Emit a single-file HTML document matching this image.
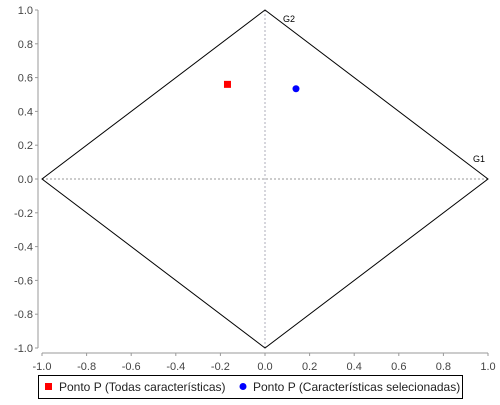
<!DOCTYPE html>
<html><head><meta charset="utf-8"><style>
body{margin:0;background:#fff;}
svg text{font-family:"Liberation Sans","DejaVu Sans",sans-serif;}
</style></head><body>
<svg id="c" width="500" height="400" xmlns="http://www.w3.org/2000/svg"></svg>
<script>
const xTicks=[-1.0,-0.8,-0.6,-0.4,-0.2,0.0,0.2,0.4,0.6,0.8,1.0];
const yTicks=[-1.0,-0.8,-0.6,-0.4,-0.2,0.0,0.2,0.4,0.6,0.8,1.0];
const diamondX=[1,0,-1,0];
const diamondY=[0,1,0,-1];
const seriesNames=["Ponto P (Todas características)","Ponto P (Características selecionadas)"];
const seriesX=[-0.166,0.139];
const seriesY=[0.557,0.534];
const seriesColors=["#ff0000","#0000ff"];
const L=42,R=488,T=10,B=348;
const sx=v=>L+(v+1)/2*(R-L);
const sy=v=>B-(v+1)/2*(B-T);
const svg=document.getElementById('c');
const NS="http://www.w3.org/2000/svg";
function mk(t,a,p){const e=document.createElementNS(NS,t);for(const k in a)e.setAttribute(k,a[k]);(p||svg).appendChild(e);return e;}
// axes
let ax=mk('line',{x1:L,y1:B+5,x2:R,y2:B+5,stroke:'#999'});


let ay=mk('line',{x1:L-4,y1:T,x2:L-4,y2:B,stroke:'#999'});


xTicks.forEach(v=>{
  mk('line',{x1:sx(v),y1:B+5,x2:sx(v),y2:B+8,stroke:'#999'});
  const t=mk('text',{x:sx(v),y:B+22,'text-anchor':'middle','font-size':11,fill:'#444'});
  t.textContent=v.toFixed(1);
  
  
});
yTicks.forEach(v=>{
  mk('line',{x1:L-7,y1:sy(v),x2:L-4,y2:sy(v),stroke:'#999'});
  const t=mk('text',{x:L-9,y:sy(v)+4,'text-anchor':'end','font-size':11,fill:'#444'});
  t.textContent=v.toFixed(1);
  
  
});
// zero lines
mk('line',{x1:L,y1:sy(0),x2:R,y2:sy(0),stroke:'#777','stroke-dasharray':'2,2','stroke-width':0.8});
mk('line',{x1:sx(0),y1:T,x2:sx(0),y2:B,stroke:'#99a','stroke-dasharray':'2,2','stroke-width':0.8});
// diamond
const pts=diamondX.map((x,i)=>sx(x)+','+sy(diamondY[i])).join(' ');
const d=mk('polygon',{points:pts,fill:'none',stroke:'#000','stroke-width':1});


let g1=mk('text',{x:sx(1)-15,y:sy(0)-17,'font-size':9,fill:'#000'});g1.textContent='G1';


let g2=mk('text',{x:sx(0)+18,y:sy(1)+12,'font-size':9,fill:'#000'});g2.textContent='G2';


// points
const p0=mk('rect',{x:sx(seriesX[0])-4,y:sy(seriesY[0])-4,width:7,height:7,fill:seriesColors[0]});


const p1=mk('circle',{cx:sx(seriesX[1]),cy:sy(seriesY[1]),r:3.5,fill:seriesColors[1]});


// legend
const lg=mk('g',{});


mk('rect',{x:38.5,y:375.5,width:424,height:23,fill:'#fff',stroke:'#000'},lg);
mk('rect',{x:45,y:383,width:7,height:7,fill:seriesColors[0]},lg);
let l1=mk('text',{x:59,y:391,'font-size':12,fill:'#222'},lg);l1.textContent=seriesNames[0];


mk('circle',{cx:243,cy:386.5,r:3.5,fill:seriesColors[1]},lg);
let l2=mk('text',{x:253,y:391,'font-size':12,fill:'#222'},lg);l2.textContent=seriesNames[1];


</script>
</body></html>
